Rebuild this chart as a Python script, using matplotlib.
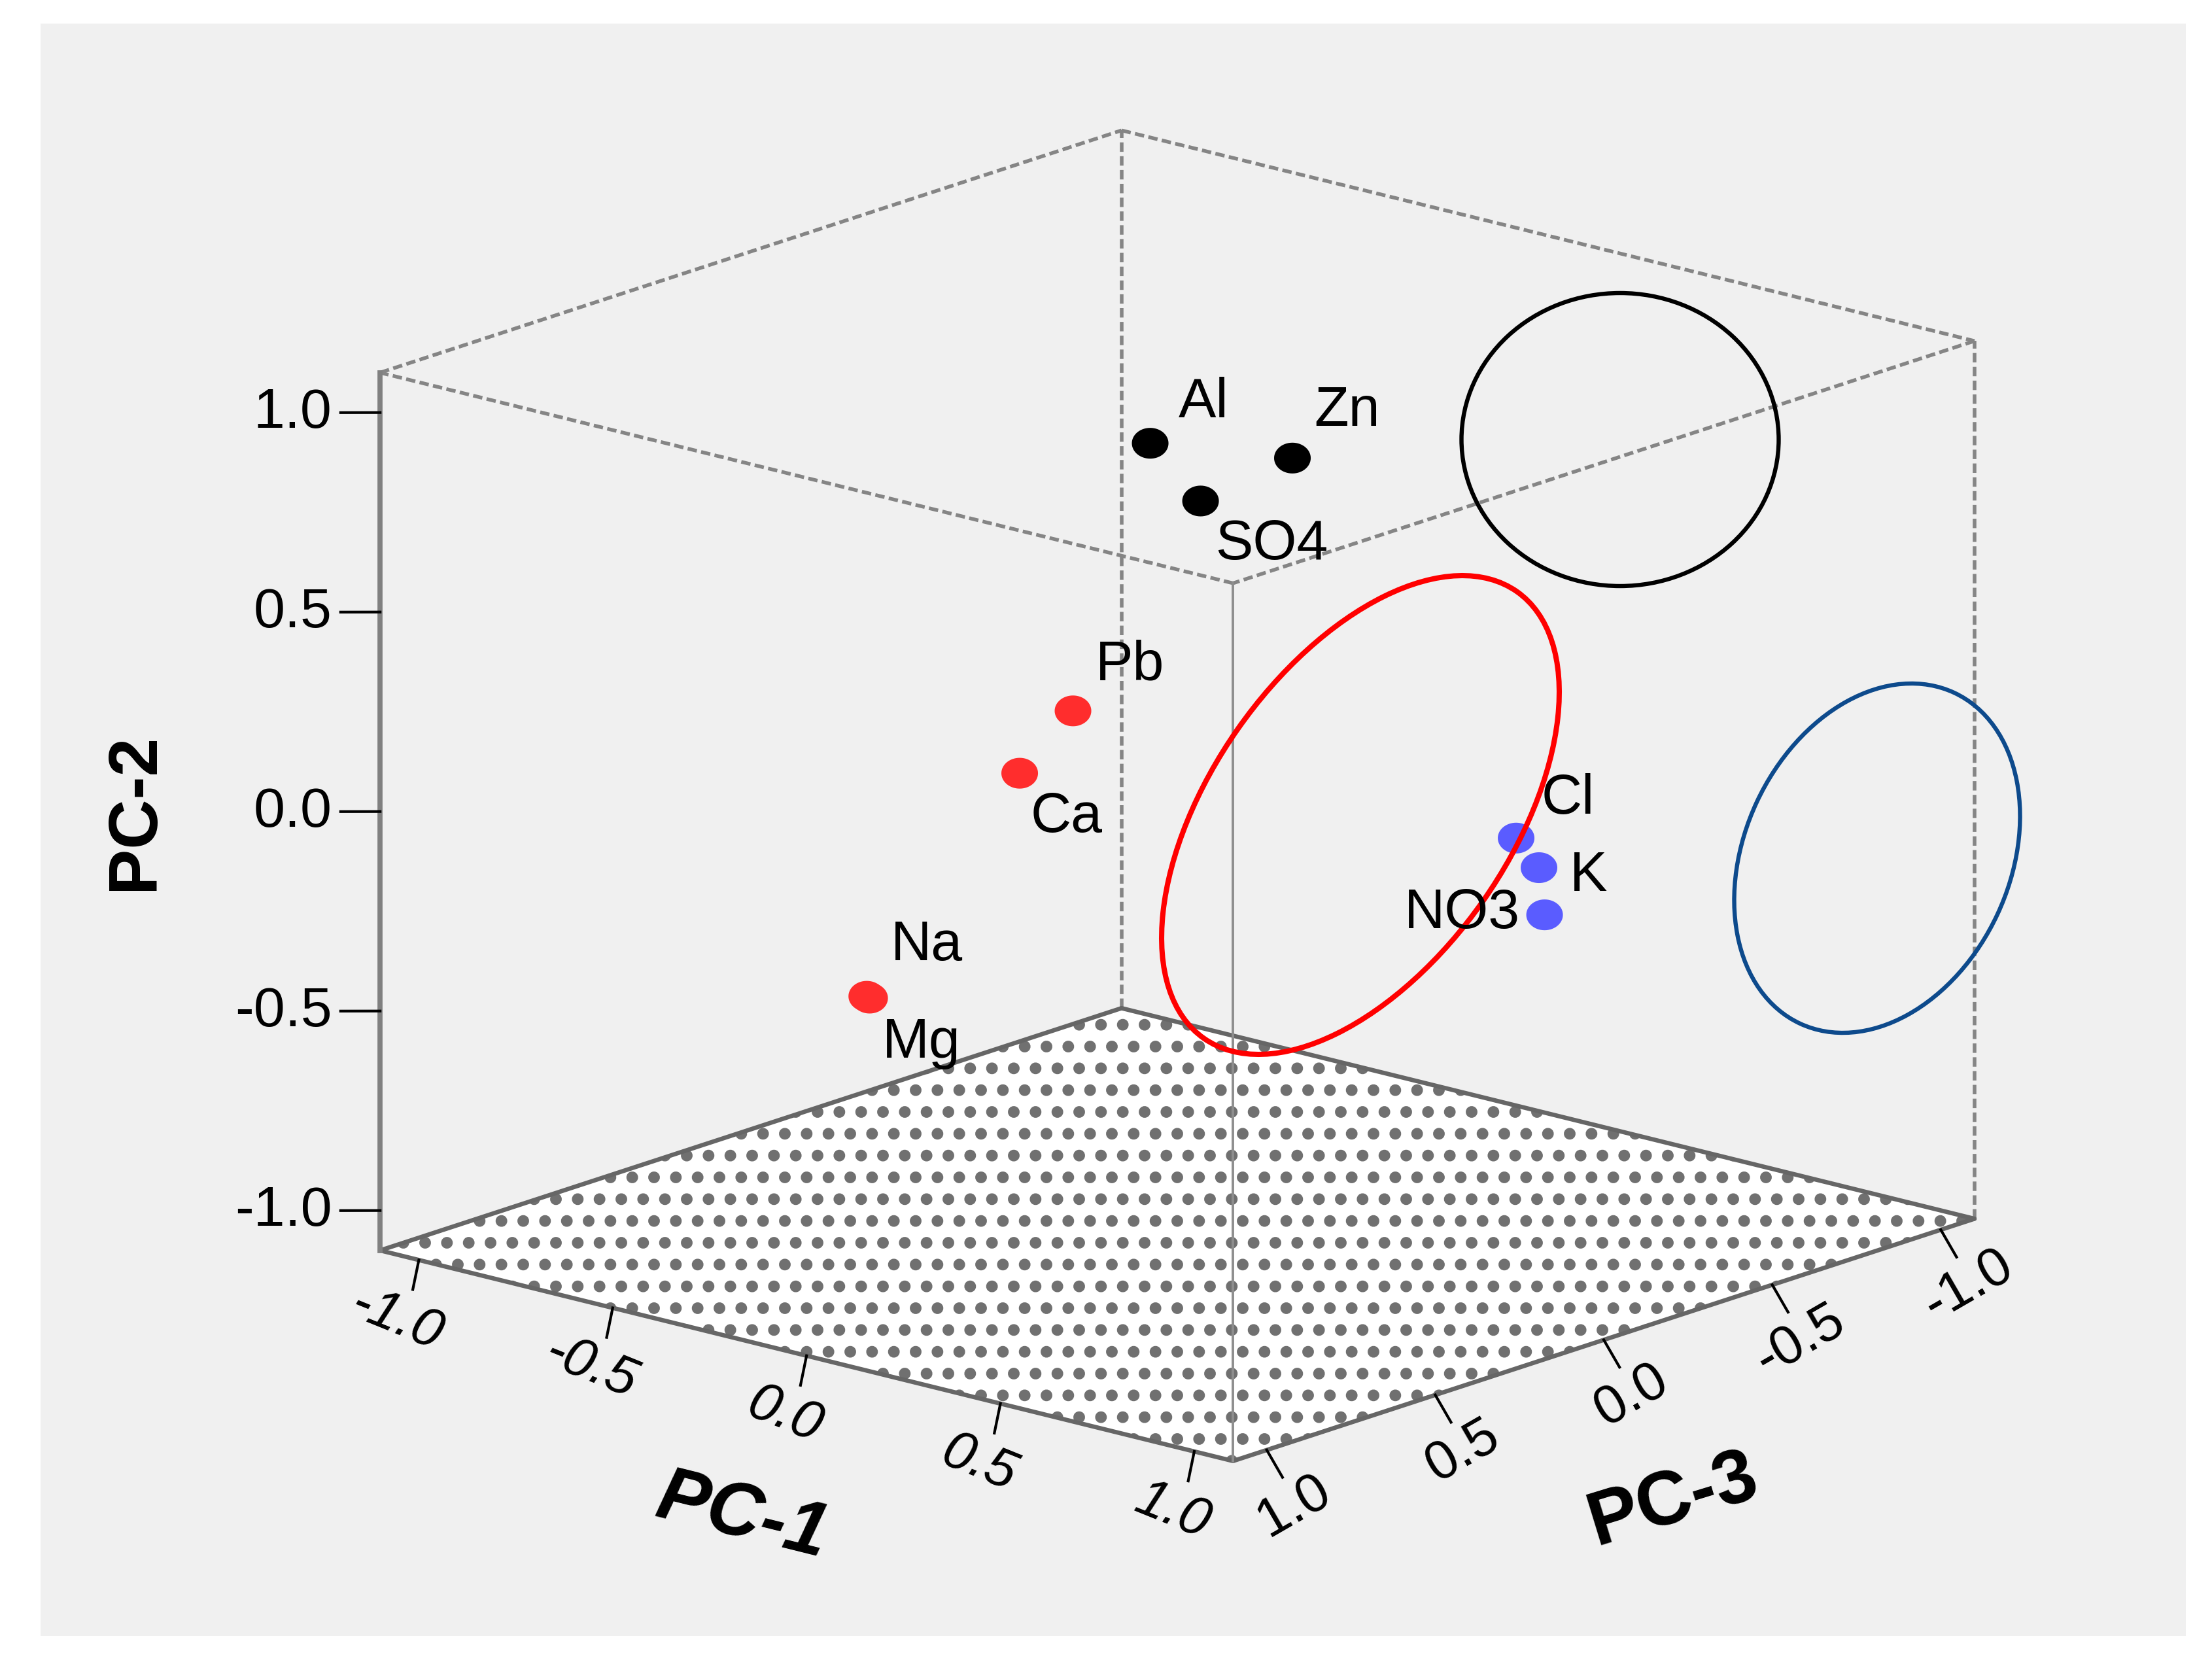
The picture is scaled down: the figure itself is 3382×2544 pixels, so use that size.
import numpy as np
import matplotlib
matplotlib.use('Agg')
import matplotlib.pyplot as plt
from matplotlib.patches import Ellipse, Rectangle
from matplotlib.path import Path
import matplotlib.transforms as mtransforms
from mpl_toolkits.mplot3d import proj3d
from mpl_toolkits.mplot3d.art3d import Poly3DCollection

plt.rcParams['font.family'] = ['Liberation Sans', 'DejaVu Sans']
plt.rcParams['hatch.linewidth'] = 4.0
plt.rcParams['hatch.color'] = '#707070'

# ---------------- data ----------------
names = ['Al', 'Zn', 'SO4', 'Pb', 'Ca', 'Na', 'Mg', 'Cl', 'K', 'NO3']
pc1 = [0.017, 0.210, 0.060, 0.296, 0.202, -0.062, -0.046, 0.787, 0.846, 0.817]
pc2 = [0.915, 0.869, 0.753, 0.463, 0.298, -0.283, -0.281, 0.055, -0.005, -0.144]
pc3 = [0.10, -0.10, 0.00, 0.65, 0.70, 0.85, 0.86, -0.10, -0.10, -0.15]
group = [0, 0, 0, 1, 1, 1, 1, 2, 2, 2]
group_colors = ['#000000', '#ff2d2d', '#5a5cff']
# label offsets (points) relative to the marker
lab_dx = [29.4, 30.2, 39.0, 31.3, 25.7, 33.1, 28.4, 28.5, 27.1, -45.5]
lab_dy = [22.2, 25.6, -24.0, 24.8, -24.5, 27.7, -24.8, 21.2, -4.7, 0.6]

tick_vals = [-1.0, -0.5, 0.0, 0.5, 1.0]
tick_labels = ['-1.0', '-0.5', '0.0', '0.5', '1.0']
LIM = 1.1

# ---------------- figure ----------------
W_PX, H_PX, DPI = 3382, 2544, 200
fig = plt.figure(figsize=(W_PX / DPI, H_PX / DPI), dpi=DPI, facecolor='white')
fig.add_artist(Rectangle((62 / W_PX, 43 / H_PX), (3342 - 62) / W_PX, (2501 - 36) / H_PX,
                         transform=fig.transFigure, facecolor='#f0f0f0',
                         edgecolor='none', zorder=-10))

ax = fig.add_axes([0.1, 0.1, 0.8, 0.8], projection='3d', proj_type='ortho',
                  computed_zorder=False)
ax.set_facecolor('none')
ax.patch.set_alpha(0)
ax.view_init(elev=16.5, azim=41.0, roll=0)
ax.set_axis_off()

L = LIM
# mapping: x = PC-3, y = PC-1, z = PC-2
floor = Poly3DCollection([[(L, -L, -L), (L, L, -L), (-L, L, -L), (-L, -L, -L)]],
                         facecolors='white', edgecolors='#707070', linewidths=0,
                         hatch='.', zorder=1)
ax.add_collection3d(floor)

dash_kw = dict(color='#858585', lw=2.0, ls=(0, (2.6, 1.2)), zorder=2, clip_on=False)
top = [(L, -L), (-L, -L), (-L, L), (L, L), (L, -L)]
for (xa, ya), (xb, yb) in zip(top[:-1], top[1:]):
    ax.plot([xa, xb], [ya, yb], [L, L], **dash_kw)
ax.plot([-L, -L], [-L, -L], [-L, L], **dash_kw)
ax.plot([-L, -L], [L, L], [-L, L], **dash_kw)
fl = [(L, -L), (L, L), (-L, L), (-L, -L), (L, -L)]
for (xa, ya), (xb, yb) in zip(fl[:-1], fl[1:]):
    ax.plot([xa, xb], [ya, yb], [-L, -L], color='#666666', lw=2.4, zorder=3,
            clip_on=False, solid_capstyle='round')
ax.plot([L, L], [L, L], [-L, L], color='#8e8e8e', lw=1.4, zorder=4, clip_on=False)
ax.plot([L, L], [-L, -L], [-L, L], color='#808080', lw=2.8, zorder=4, clip_on=False)

tick_kw = dict(color='black', lw=1.5, zorder=5, clip_on=False)
for v in tick_vals:
    ax.plot([L, L + 0.0507], [-L, -L - 0.0577], [v, v], **tick_kw)
    ax.plot([L, L + 0.018], [v, v], [-L, -L - 0.069], **tick_kw)
    ax.plot([v, v], [L, L + 0.0407], [-L, -L - 0.0587], **tick_kw)

t = np.linspace(0, 2 * np.pi, 61)
ell_marker = Path(np.column_stack([np.cos(t), 0.84 * np.sin(t)]), closed=True)
cols = [group_colors[g] for g in group]
ax.scatter(pc3, pc1, pc2, c=cols, s=407, marker=ell_marker, depthshade=False,
           edgecolors='none', zorder=6)

ax.set_xlim(-L, L)
ax.set_ylim(-L, L)
ax.set_zlim(-L, L)
ax.set_box_aspect((1, 1, 0.81))

# ---- fit the 3D box to its place in the frame ----
fig.canvas.draw()
M = ax.get_proj()

def to_px(x, y, z):
    xs, ys, _ = proj3d.proj_transform(np.atleast_1d(np.asarray(x, float)),
                                      np.atleast_1d(np.asarray(y, float)),
                                      np.atleast_1d(np.asarray(z, float)), M)
    return ax.transData.transform(np.column_stack([xs, ys]))

c0 = to_px(0.0, 0.0, 0.0)[0]
u0 = to_px(0.0, 0.0, 1.0)[0]
cur_len = abs(u0[1] - c0[1])
pos = ax.get_position()
side = pos.width * W_PX
ox, oy = pos.x0 * W_PX, pos.y0 * H_PX
target_c = np.array([1800.0, H_PX - 1216.5])
target_len = 610.0
k = target_len / cur_len
rel = (c0 - np.array([ox, oy])) / side
new_side = side * k
nx0 = target_c[0] - new_side * rel[0]
ny0 = target_c[1] - new_side * rel[1]
ax.set_position([nx0 / W_PX, ny0 / H_PX, new_side / W_PX, new_side / H_PX])

# ---- overlay in pixel space: labels, titles, ellipses ----
ov = fig.add_axes([0, 0, 1, 1])
ov.set_zorder(5)
ov.set_xlim(0, W_PX)
ov.set_ylim(H_PX, 0)
ov.set_axis_off()
ov.patch.set_alpha(0)

def ov_xy(x, y, z):
    p = to_px(x, y, z)[0]
    return p[0], H_PX - p[1]

def off(dx, dy):
    return ov.transData + mtransforms.ScaledTranslation(dx / 72, dy / 72, fig.dpi_scale_trans)

for v, s in zip(tick_vals, tick_labels):
    x, y = ov_xy(L, -L, v)
    ov.text(x, y, s, transform=off(-26.5, -0.5), ha='right', va='center', fontsize=31)
    x, y = ov_xy(L, v, -L)
    ov.text(x, y, s, transform=off(-11.9, -32.8), ha='center', va='center',
            fontsize=30, style='italic', rotation=-22)
    x, y = ov_xy(v, L, -L)
    ov.text(x, y, s, transform=off(15.1, -30.6), ha='center', va='center',
            fontsize=30, rotation=30)

for i, n in enumerate(names):
    x, y = ov_xy(pc3[i], pc1[i], pc2[i])
    ov.text(x, y, n, transform=off(lab_dx[i], lab_dy[i]), ha='center', va='center',
            fontsize=31)

ov.text(207, 1241, 'PC-2', rotation=90, ha='center', va='center', fontsize=38,
        fontweight='bold')
ov.text(1136, 2320, 'PC-1', rotation=-14, ha='center', va='center', fontsize=42,
        fontweight='bold', style='italic')
ov.text(2558, 2294, 'PC-3', rotation=17, ha='center', va='center', fontsize=42,
        fontweight='bold')

ov.add_patch(Ellipse((2477, 672), 485, 448, angle=0, fill=False, edgecolor='black', lw=2.3))
ov.add_patch(Ellipse((2080, 1246), 834, 458, angle=-55, fill=False, edgecolor='#ff0000', lw=2.9))
ov.add_patch(Ellipse((2870, 1312), 558, 406, angle=-65, fill=False, edgecolor='#0d4a8c', lw=2.3))

fig.savefig('out.png', dpi=DPI, facecolor='white')
